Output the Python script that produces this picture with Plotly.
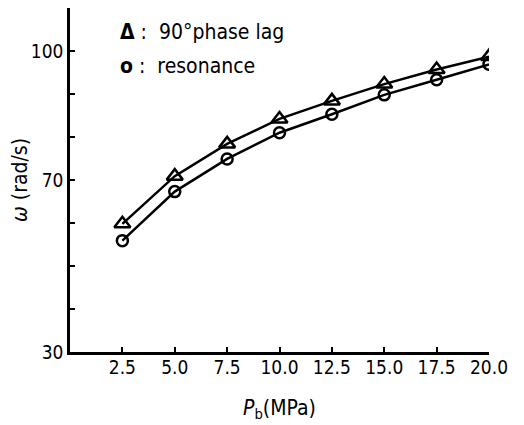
import plotly.graph_objects as go

pressure = [2.5, 5.0, 7.5, 10.0, 12.5, 15.0, 17.5, 20.0]
phase_lag_90 = [59.8, 70.9, 78.4, 84.2, 88.4, 92.3, 95.7, 98.7]
resonance = [55.9, 67.3, 74.9, 81.0, 85.3, 89.8, 93.3, 96.9]

x_ticks = [2.5, 5.0, 7.5, 10.0, 12.5, 15.0, 17.5, 20.0]
x_tick_labels = ["2.5", "5.0", "7.5", "10.0", "12.5", "15.0", "17.5", "20.0"]
y_ticks = [30, 70, 100]
y_tick_labels = ["30", "70", "100"]
y_minor_ticks = [40, 50, 60, 80, 90, 110]

FONT = "DejaVu Sans Condensed"
NB = "\u00a0"

fig = go.Figure()
fig.add_trace(go.Scatter(
    x=pressure, y=phase_lag_90, mode="lines+markers", name="90°phase lag",
    line=dict(color="black", width=2.5),
    marker=dict(symbol="triangle-up-open", size=14, color="black", line=dict(width=2.5, color="black")),
))
fig.add_trace(go.Scatter(
    x=pressure, y=resonance, mode="lines+markers", name="resonance",
    line=dict(color="black", width=2.5),
    marker=dict(symbol="circle-open", size=11, color="black", line=dict(width=2.5, color="black")),
))

fig.update_layout(
    width=516, height=417,
    margin=dict(l=62, r=35, t=0, b=73),
    paper_bgcolor="white", plot_bgcolor="white",
    showlegend=False,
    font=dict(family=FONT, color="black", size=19),
    xaxis=dict(
        range=[0, 20], tickmode="array", tickvals=x_ticks, ticktext=x_tick_labels,
        ticks="inside", ticklen=5, tickwidth=2, tickcolor="black",
        showline=True, linecolor="black", linewidth=2.5, showgrid=False, zeroline=False,
        automargin=False, ticklabelstandoff=-4,
        tickfont=dict(family=FONT, size=19, color="black"),
        title=dict(text="<i>P</i><sub>b</sub>(MPa)", font=dict(family=FONT, size=21, color="black"), standoff=24),
    ),
    yaxis=dict(
        range=[30, 110], tickmode="array", tickvals=y_ticks, ticktext=y_tick_labels,
        ticks="inside", ticklen=5, tickwidth=2, tickcolor="black",
        minor=dict(tickvals=y_minor_ticks, ticks="inside", ticklen=5, tickwidth=2, tickcolor="black"),
        showline=True, linecolor="black", linewidth=2.5, showgrid=False, zeroline=False,
        automargin=False,
        tickfont=dict(family=FONT, size=19, color="black"),
        title=dict(text="<i>ω</i>" + NB + "(rad/s)", font=dict(family=FONT, size=21, color="black"), standoff=9),
    ),
    annotations=[
        dict(xref="paper", yref="paper", x=0.115, y=0.93, xanchor="left", yanchor="middle",
             text="<b>Δ</b>" + NB + ":" + NB + NB + "90°phase lag", showarrow=False,
             font=dict(family=FONT, size=21, color="black")),
        dict(xref="paper", yref="paper", x=0.115, y=0.832, xanchor="left", yanchor="middle",
             text="<b>o</b>" + NB + ":" + NB + NB + "resonance", showarrow=False,
             font=dict(family=FONT, size=21, color="black")),
    ],
)

fig.write_html("out.html")
